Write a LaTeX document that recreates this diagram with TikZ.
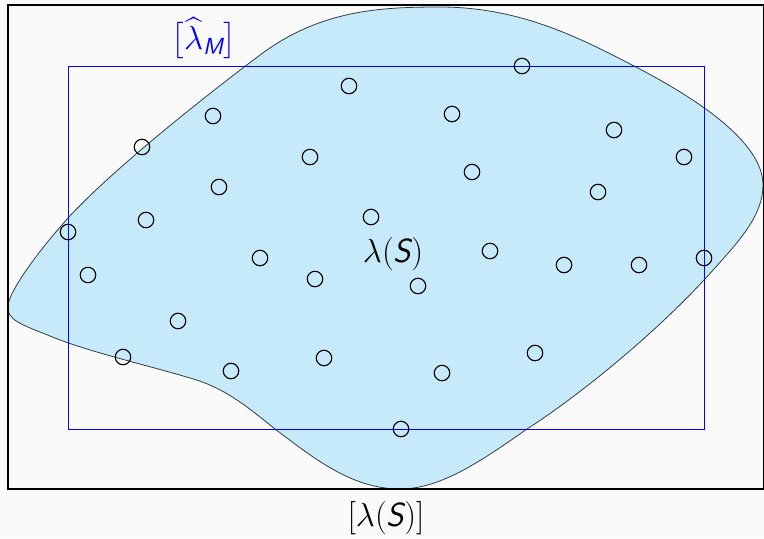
\RequirePackage{fix-cm}
\documentclass[tikz,border=0pt]{standalone}
\usepackage{amsmath}
\newcommand\sit[1]{\text{\sffamily\itshape #1}}
\definecolor{bgc}{RGB}{250,250,250}
\definecolor{blobfill}{RGB}{198,234,249}
\definecolor{blobline}{RGB}{50,60,65}
\tikzset{
  blob/.style={draw=blobline, line width=0.45pt, fill=blobfill},
  pt/.style={circle, draw=black, line width=0.65pt, minimum size=0.31cm, inner sep=0pt},
  frame/.style={draw=black, line width=0.6pt},
  mbox/.style={draw=blue, line width=0.5pt},
  lbl/.style={font=\fontsize{19}{23}\selectfont, inner sep=0pt}
}
\begin{document}
\begin{tikzpicture}[x=0.02cm, y=-0.02cm]
\useasboundingbox[fill=bgc] (0,0) rectangle (764,538);
\draw[blob] (8,305) .. controls (10.5,290) and (35,255) .. (68,218)
  .. controls (110,172) and (200,100) .. (260,55)
  .. controls (320,10) and (380,7) .. (440,7)
  .. controls (520,7) and (580,38) .. (634,66)
  .. controls (690,95) and (763,140) .. (763,185)
  .. controls (763,215) and (740,240) .. (714,269)
  .. controls (660,330) and (580,395) .. (527,429)
  .. controls (480,462) and (440,489) .. (400,489)
  .. controls (350,489) and (310,455) .. (275,429)
  .. controls (245,405) and (225,388) .. (190,378)
  .. controls (150,366) and (90,352) .. (55,338)
  .. controls (20,324) and (6,320) .. (8,305) -- cycle;
\draw[mbox] (68,66) rectangle (704,429);
\draw[frame] (8,5) rectangle (763.5,489);
\foreach \n/\x/\y in {1/349/86, 2/213/116, 3/142/147, 4/310/157, 5/219/187, 6/146/220,
  7/371/217, 8/68/232, 9/260/258, 10/522/66, 11/452/114, 12/614/130, 13/684/157,
  14/472/172, 15/598/192, 16/490/251, 17/564/265, 18/639/265, 19/704/258,
  20/88/275, 21/315/279, 22/178/321, 23/123/357, 24/231/371, 25/324/358,
  26/418/286, 27/535/353, 28/442/373, 29/401/429}
  \node[pt] (p\n) at (\x,\y) {};
\node[lbl, text=blue] (lm) at (204,39) {$\bigl[\widehat{\lambda}_{\sit{M}}\bigr]$};
\node[lbl] (ls) at (393,254) {$\lambda(\sit{S})$};
\node[lbl] (lb) at (386,518) {$[\lambda(\sit{S})]$};
\end{tikzpicture}
\end{document}
